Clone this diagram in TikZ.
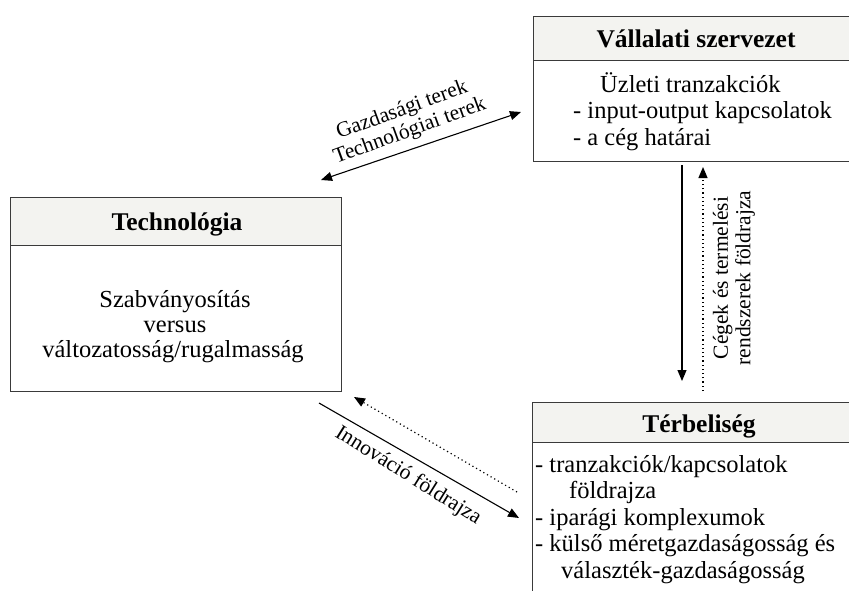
\documentclass[tikz,border=0pt]{standalone}
\usepackage{fontspec}
\setmainfont{Liberation Serif}
\usetikzlibrary{arrows.meta}
\definecolor{hdrfill}{HTML}{F3F3F0}
\definecolor{boxline}{HTML}{3A3A3A}
\tikzset{
  hdr/.style={draw=boxline, line width=1.2pt, fill=hdrfill, rectangle, inner sep=0pt, anchor=north west},
  bodybox/.style={draw=boxline, line width=1.2pt, fill=white, rectangle, inner sep=0pt, anchor=north west},
  title/.style={font=\fontsize{25.5}{28}\selectfont\bfseries, inner sep=0pt, anchor=base},
  txt/.style={font=\fontsize{24.5}{25}\selectfont, inner sep=0pt},
  lbl/.style={font=\fontsize{21.5}{22.5}\selectfont, inner sep=0pt, align=center},
  tip/.style={-{Triangle[length=11pt,width=9pt]}},
  conn/.style={line width=1.1pt, black},
  dotline/.style={line width=1.2pt, black, dash pattern=on 1.2pt off 3pt},
}
\begin{document}
\begin{tikzpicture}[x=1pt,y=-1pt]
\useasboundingbox (0,0) rectangle (849,590);
\clip (0,0) rectangle (849,590);
% Vallalati szervezet
\node[bodybox, minimum width=326pt, minimum height=101pt] (vb) at (533,60) {};
\node[hdr, minimum width=326pt, minimum height=44pt] (vh) at (533,16) {};
\node[title] (vt) at (696,47) {Vállalati szervezet};
\node[txt, anchor=base west] (v1) at (600,92) {Üzleti tranzakciók};
\node[txt, anchor=base west] (v2) at (573,118) {- input-output kapcsolatok};
\node[txt, anchor=base west] (v3) at (573,145) {- a cég határai};
% Technologia
\node[bodybox, minimum width=331pt, minimum height=146pt] (tb) at (10,245) {};
\node[hdr, minimum width=331pt, minimum height=48pt] (th) at (10,197) {};
\node[title] (tt) at (177,230.5) {Technológia};
\node[txt, anchor=base] (t1) at (175,307) {Szabványosítás};
\node[txt, anchor=base] (t2) at (175,332) {versus};
\node[txt, anchor=base] (t3) at (173,357) {változatosság/rugalmasság};
% Terbeliseg
\node[bodybox, minimum width=334pt, minimum height=160pt] (sb) at (532,442) {};
\node[hdr, minimum width=334pt, minimum height=40pt] (sh) at (532,402) {};
\node[title] (st) at (699,432) {Térbeliség};
\node[txt, anchor=base west] (s1) at (535,472) {- tranzakciók/kapcsolatok};
\node[txt, anchor=base west] (s2) at (569,498.5) {földrajza};
\node[txt, anchor=base west] (s3) at (535,525) {- iparági komplexumok};
\node[txt, anchor=base west] (s4) at (535,551.5) {- külső méretgazdaságosság és};
\node[txt, anchor=base west] (s5) at (561,578) {választék-gazdaságosság};
% connector end points
\coordinate (g1) at (321,180);
\coordinate (g2) at (521,112);
\coordinate (i1) at (319,403);
\coordinate (i2) at (519,518);
\coordinate (d1) at (517,492);
\coordinate (d2) at (354,397);
\coordinate (c1) at (682,165);
\coordinate (c2) at (682,381);
\coordinate (e1) at (703,391);
\coordinate (e2) at (703,167);
% connectors
\draw[conn, {Triangle[length=11pt,width=9pt]}-{Triangle[length=11pt,width=9pt]}] (g1) -- (g2);
\draw[conn, tip] (i1) -- (i2);
\draw[dotline, tip] (d1) -- (d2);
\draw[conn, tip] (c1) -- (c2);
\draw[dotline, tip] (e1) -- (e2);
% labels
\node[lbl, rotate=20] (gl) at (406,121) {Gazdasági terek\\Technológiai terek};
\node[lbl, rotate=-32] (il) at (408,476) {Innováció földrajza};
\node[lbl, rotate=90] (cl) at (734,278) {Cégek és termelési\\rendszerek földrajza};
\end{tikzpicture}
\end{document}
